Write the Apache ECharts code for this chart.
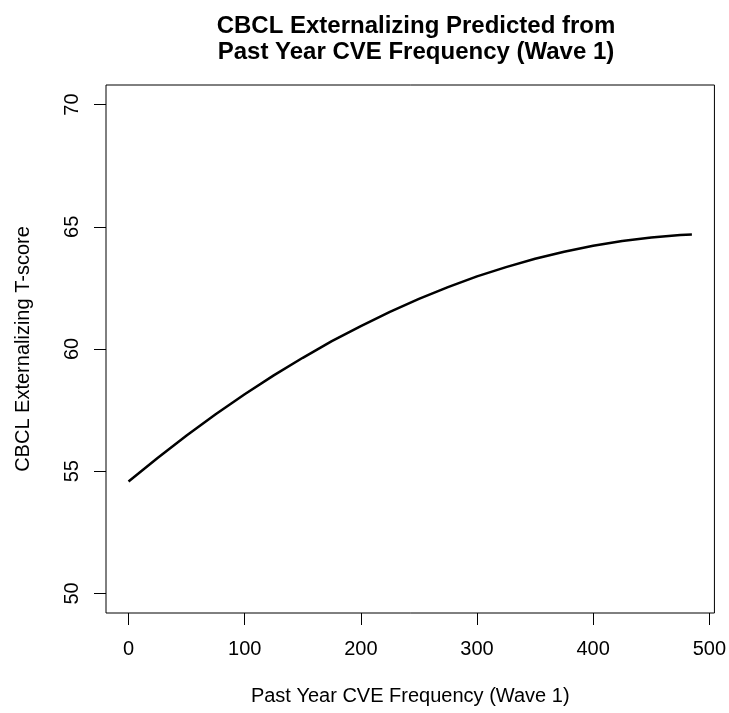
<!DOCTYPE html>
<html>
<head>
<meta charset="utf-8">
<script src="https://cdn.jsdelivr.net/npm/echarts@6/dist/echarts.min.js"></script>
<style>
html,body{margin:0;padding:0;background:#fff;}
#chart{width:729px;height:713px;}
</style>
</head>
<body>
<div id="chart"></div>
<script>
// Data
var cveFrequency = [0, 25, 50, 75, 100, 125, 150, 175, 200, 225, 250, 275, 300, 325, 350, 375, 400, 425, 450, 475, 485];
var externalizingT = [54.58, 55.54, 56.46, 57.33, 58.15, 58.92, 59.64, 60.32, 60.94, 61.52, 62.05, 62.53, 62.97, 63.35, 63.69, 63.98, 64.22, 64.42, 64.56, 64.66, 64.68];
var xTicks = [0, 100, 200, 300, 400, 500];
var yTicks = [50, 55, 60, 65, 70];
var titleText = "CBCL Externalizing Predicted from\nPast Year CVE Frequency (Wave 1)";
var xName = "Past Year CVE Frequency (Wave 1)";
var yName = "CBCL Externalizing T-score";

var points = cveFrequency.map(function (x, i) { return [x, externalizingT[i]]; });
var font = "Liberation Sans, Arial, Helvetica, sans-serif";

var chart = echarts.init(document.getElementById('chart'), null, {renderer: 'canvas'});
chart.setOption({
  animation: false,
  backgroundColor: '#ffffff',
  title: {
    text: titleText,
    left: 411,
    textAlign: 'center',
    top: 8,
    textStyle: {fontFamily: font, fontSize: 24, fontWeight: 'bold', color: '#000', lineHeight: 26}
  },
  grid: {
    left: 106, right: 12, top: 85, bottom: 100,
    show: true, borderColor: '#000', borderWidth: 1, backgroundColor: 'transparent'
  },
  xAxis: {
    type: 'value',
    min: -19.4, max: 504.4,
    name: xName,
    nameLocation: 'middle',
    nameGap: 73,
    nameTextStyle: {fontFamily: font, fontSize: 20, color: '#000'},
    axisLine: {show: false, onZero: false},
    splitLine: {show: false},
    axisTick: {show: true, inside: false, length: 12, customValues: xTicks, lineStyle: {color: '#000', width: 1}},
    axisLabel: {show: true, customValues: xTicks, margin: 26, fontFamily: font, fontSize: 20, color: '#000'}
  },
  yAxis: {
    type: 'value',
    min: 49.2, max: 70.8,
    name: yName,
    nameLocation: 'middle',
    nameGap: 73,
    nameRotate: 90,
    nameTextStyle: {fontFamily: font, fontSize: 20, color: '#000'},
    axisLine: {show: false, onZero: false},
    splitLine: {show: false},
    axisTick: {show: true, inside: false, length: 12, customValues: yTicks, lineStyle: {color: '#000', width: 1}},
    axisLabel: {show: true, rotate: 90, customValues: yTicks, margin: 24, fontFamily: font, fontSize: 20, color: '#000'}
  },
  series: [{
    type: 'line',
    data: points,
    showSymbol: false,
    symbol: 'none',
    smooth: false,
    lineStyle: {color: '#000', width: 2.5},
    silent: true
  }]
});
</script>
</body>
</html>
